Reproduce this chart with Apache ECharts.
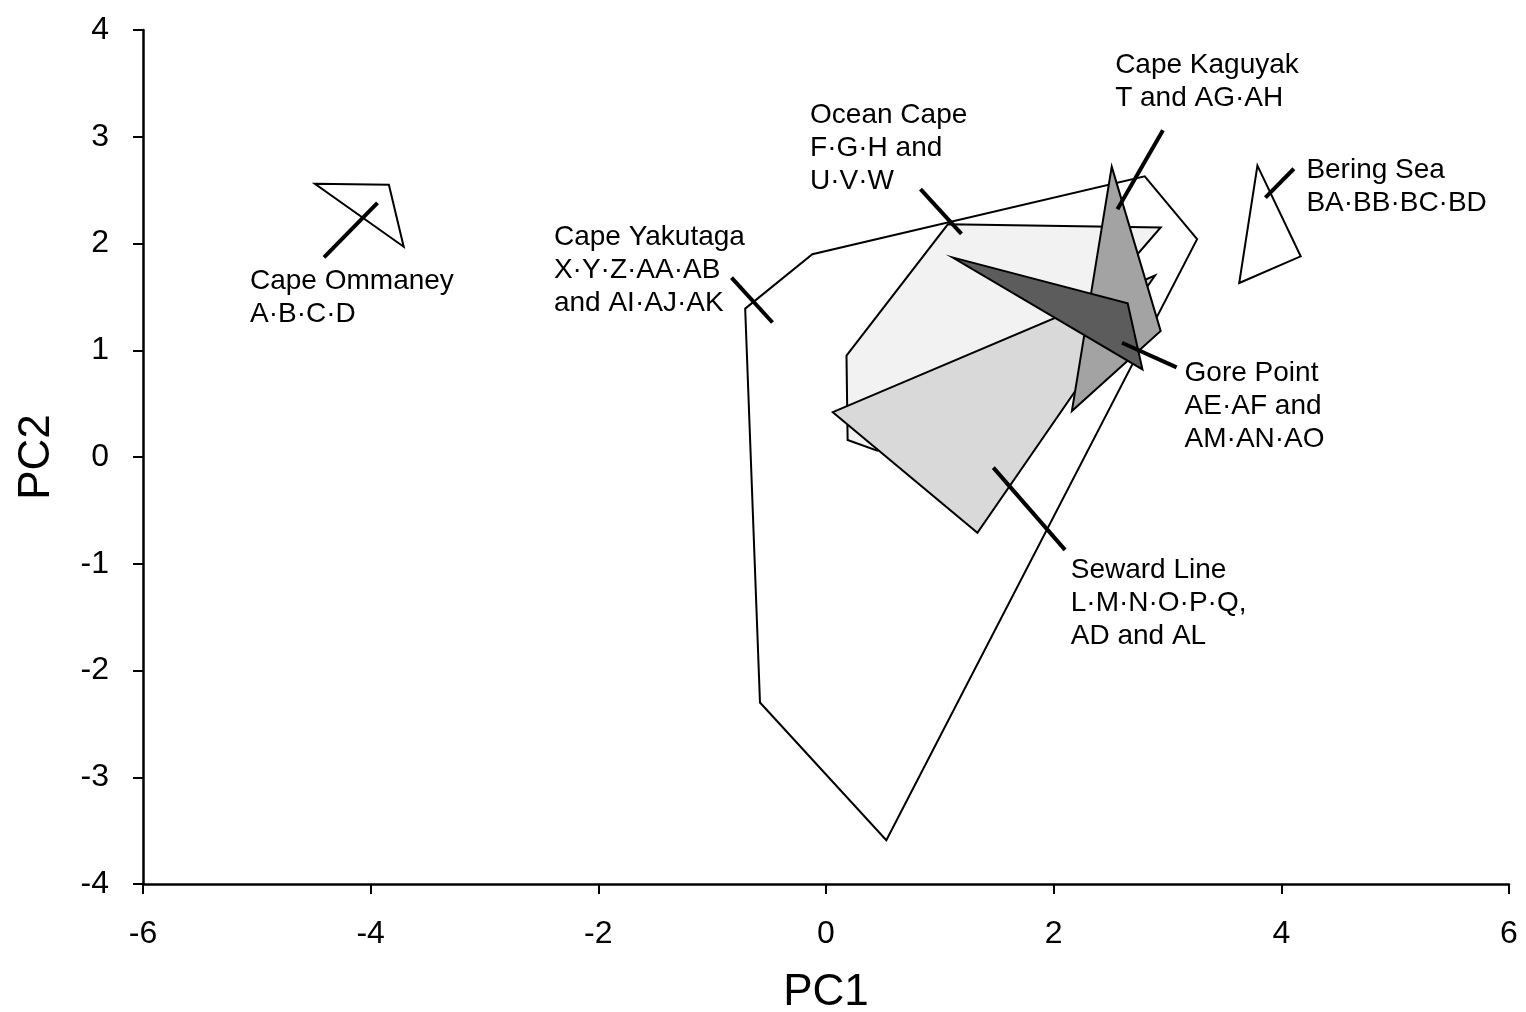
<!DOCTYPE html>
<html>
<head>
<meta charset="utf-8">
<title>PC1 / PC2</title>
<script src="https://cdn.jsdelivr.net/npm/echarts@6/dist/echarts.min.js"></script>
<style>
  html, body { margin: 0; padding: 0; background: #fff; }
  #myChart { width: 1526px; height: 1012px; }
</style>
</head>
<body>
<div id="myChart"></div>
<script>
// polygon vertices, [PC1, PC2]
var capeYakutaga = [[-0.71, 1.39], [-0.12, 1.90], [2.80, 2.63], [3.26, 2.04], [0.53, -3.59], [-0.58, -2.30]]
var oceanCape = [[1.07, 2.18], [2.94, 2.15], [2.25, 1.30], [0.45, 0.06], [0.19, 0.16], [0.18, 0.95]]
var sewardLine = [[0.06, 0.42], [2.89, 1.70], [1.33, -0.71]]
var capeKaguyak = [[2.51, 2.72], [2.94, 1.18], [2.16, 0.43]]
var gorePoint = [[1.11, 1.87], [2.65, 1.44], [2.78, 0.82]]
var capeOmmaney = [[-4.49, 2.56], [-3.84, 2.55], [-3.71, 1.97]]
var beringSea = [[3.79, 2.73], [4.17, 1.88], [3.63, 1.63]]

// leader lines from label to polygon
var leaders = [
  [[-3.94, 2.38], [-4.41, 1.87]],
  [[-0.83, 1.68], [-0.47, 1.26]],
  [[0.83, 2.51], [1.19, 2.09]],
  [[2.96, 3.06], [2.56, 2.32]],
  [[4.11, 2.70], [3.86, 2.43]],
  [[2.60, 1.07], [3.08, 0.84]],
  [[1.47, -0.10], [2.10, -0.87]]
]

// labels and where their first line sits
var labelTexts = [
  'Cape Ommaney\nA·B·C·D',
  'Cape Yakutaga\nX·Y·Z·AA·AB\nand AI·AJ·AK',
  'Ocean Cape\nF·G·H and\nU·V·W',
  'Cape Kaguyak\nT and AG·AH',
  'Bering Sea\nBA·BB·BC·BD',
  'Gore Point\nAE·AF and\nAM·AN·AO',
  'Seward Line\nL·M·N·O·P·Q,\nAD and AL'
]
var labelAnchors = [[-5.06, 1.65], [-2.39, 2.06], [-0.14, 3.20], [2.54, 3.67], [4.22, 2.69], [3.15, 0.78], [2.15, -1.06]]

var xTicks = { min: -6, max: 6, interval: 2 }
var yTicks = { min: -4, max: 4, interval: 1 }

var FONT = 'Liberation Sans, Arial, sans-serif'

function polygonSeries (pts, fill, z) {
  return {
    type: 'custom',
    data: pts,
    z: z,
    renderItem: function (params, api) {
      // draw the whole polygon once, on the first point
      if (params.context.rendered) return
      params.context.rendered = true
      var points = pts.map(function (p) { return api.coord(p) })
      return {
        type: 'polygon',
        shape: { points: points },
        style: { fill: fill, stroke: '#000', lineWidth: 2 }
      }
    }
  }
}

var myChart = echarts.init(document.getElementById('myChart'))

var axisCommon = {
  type: 'value',
  splitLine: { show: false },
  axisLine: { onZero: false, lineStyle: { color: '#000', width: 2.5 } },
  axisTick: { inside: false, length: 10, lineStyle: { color: '#000', width: 2 } },
  nameLocation: 'middle',
  nameTextStyle: { color: '#000', fontSize: 44, fontFamily: FONT }
}

var option = {
  animation: false,
  backgroundColor: '#fff',
  grid: { left: 143, right: 17, top: 30, bottom: 128, containLabel: false, outerBoundsMode: 'none' },
  xAxis: Object.assign({}, axisCommon, {
    min: xTicks.min, max: xTicks.max, interval: xTicks.interval,
    name: 'PC1', nameGap: 87,
    axisLabel: { color: '#000', fontSize: 32, fontFamily: FONT, margin: 34 }
  }),
  yAxis: Object.assign({}, axisCommon, {
    min: yTicks.min, max: yTicks.max, interval: yTicks.interval,
    name: 'PC2', nameGap: 84,
    axisLabel: { color: '#000', fontSize: 32, fontFamily: FONT, margin: 34 }
  }),
  series: [
    polygonSeries(capeYakutaga, '#fff', 1),
    polygonSeries(oceanCape, '#f2f2f2', 2),
    polygonSeries(sewardLine, '#d9d9d9', 3),
    polygonSeries(capeKaguyak, '#a3a3a3', 4),
    polygonSeries(gorePoint, '#5c5c5c', 5),
    polygonSeries(capeOmmaney, 'rgba(0,0,0,0)', 2),
    polygonSeries(beringSea, 'rgba(0,0,0,0)', 2),
    {
      type: 'lines',
      coordinateSystem: 'cartesian2d',
      z: 6,
      lineStyle: { color: '#000', width: 4, opacity: 1 },
      data: leaders.map(function (c) { return { coords: c } })
    },
    {
      type: 'custom',
      z: 7,
      data: labelAnchors,
      renderItem: function (params, api) {
        var pt = api.coord([api.value(0), api.value(1)])
        return {
          type: 'text',
          x: pt[0],
          y: pt[1] - 16.5,
          style: {
            text: labelTexts[params.dataIndex],
            fill: '#000',
            fontSize: 28,
            fontFamily: FONT,
            lineHeight: 33,
            align: 'left',
            verticalAlign: 'top'
          }
        }
      }
    }
  ]
}
myChart.setOption(option)
</script>
</body>
</html>
